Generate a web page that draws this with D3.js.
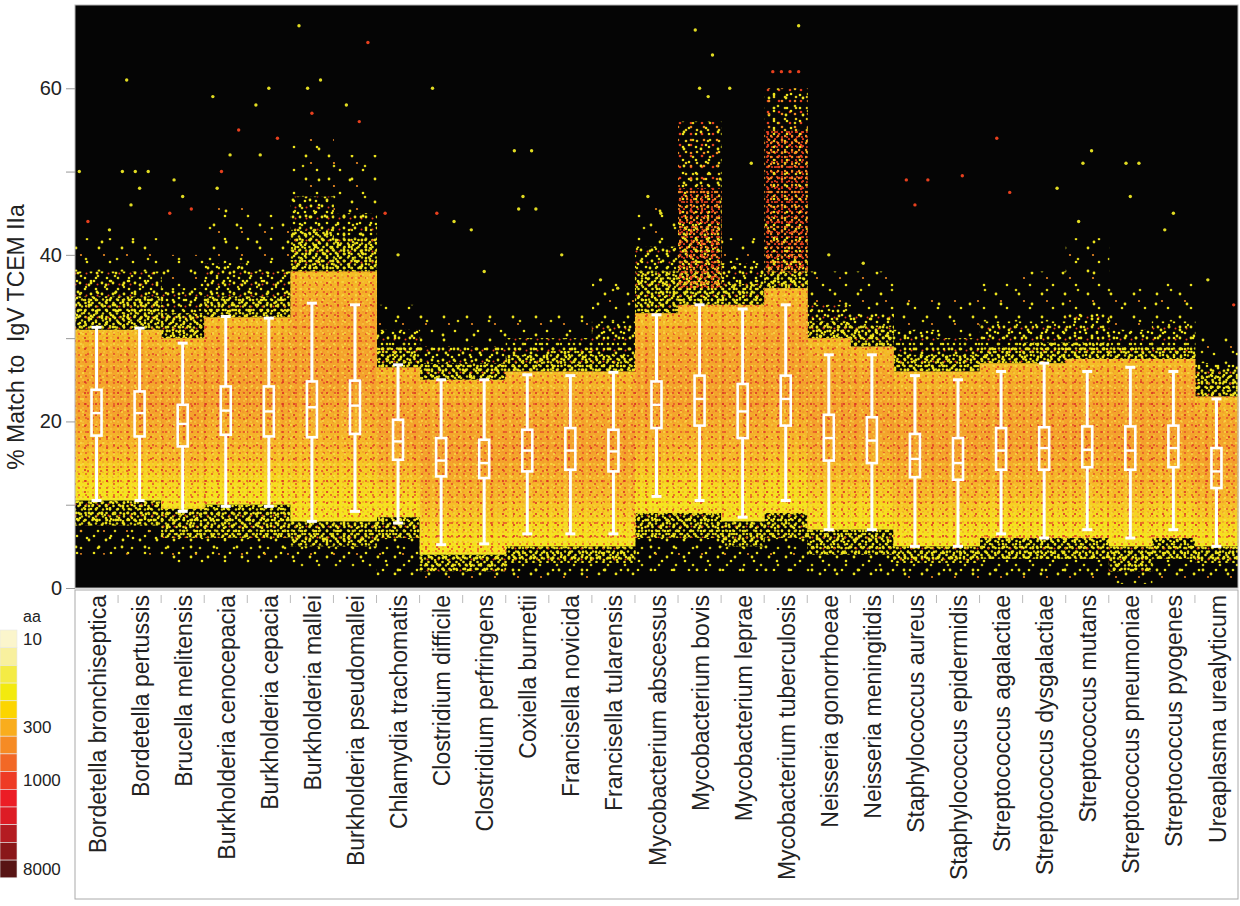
<!DOCTYPE html>
<html>
<head>
<meta charset="utf-8">
<script src="https://cdn.jsdelivr.net/npm/d3@7"></script>
<style>
  body { margin: 0; background: #fff; }
  text { font-family: "Liberation Sans", Arial, sans-serif; fill: #222; }
</style>
</head>
<body>
<div id="chart"></div>
<script>
const species = [
  'Bordetella bronchiseptica', 'Bordetella pertussis', 'Brucella melitensis',
  'Burkholderia cenocepacia', 'Burkholderia cepacia', 'Burkholderia mallei',
  'Burkholderia pseudomallei', 'Chlamydia trachomatis', 'Clostridium difficile',
  'Clostridium perfringens', 'Coxiella burnetii', 'Francisella novicida',
  'Francisella tularensis', 'Mycobacterium abscessus', 'Mycobacterium bovis',
  'Mycobacterium leprae', 'Mycobacterium tuberculosis', 'Neisseria gonorrhoeae',
  'Neisseria meningitidis', 'Staphylococcus aureus', 'Staphylococcus epidermidis',
  'Streptococcus agalactiae', 'Streptococcus dysgalactiae', 'Streptococcus mutans',
  'Streptococcus pneumoniae', 'Streptococcus pyogenes', 'Ureaplasma urealyticum'
];

// box plot stats (% match)
const whiskerLo = [10.5, 10.5, 9.2, 9.8, 9.8, 8.0, 9.2, 7.8, 5.2, 5.3, 6.5, 6.5, 6.5, 11.0, 10.5, 8.5, 10.5, 7.0, 7.0, 5.0, 5.0, 6.5, 6.0, 7.0, 6.0, 7.0, 5.0];
const q1        = [18.3, 18.2, 17.0, 18.4, 18.2, 18.1, 18.5, 15.4, 13.4, 13.2, 14.0, 14.2, 14.0, 19.2, 19.5, 18.0, 19.5, 15.3, 15.0, 13.3, 13.0, 14.2, 14.2, 14.5, 14.2, 14.5, 12.0];
const median    = [21.0, 21.0, 19.7, 21.3, 21.2, 21.7, 21.9, 17.6, 15.3, 15.0, 16.5, 16.5, 16.4, 22.0, 22.7, 21.2, 22.7, 18.0, 17.7, 15.5, 15.0, 16.5, 16.8, 16.6, 16.5, 16.8, 14.0];
const q3        = [23.8, 23.6, 22.0, 24.2, 24.2, 24.8, 24.9, 20.2, 18.0, 17.8, 19.0, 19.2, 19.0, 24.8, 25.5, 24.5, 25.5, 20.8, 20.5, 18.5, 18.0, 19.2, 19.3, 19.4, 19.4, 19.5, 16.8];
const whiskerHi = [31.3, 31.2, 29.4, 32.6, 32.4, 34.2, 34.0, 26.8, 25.0, 25.0, 25.6, 25.5, 25.9, 32.8, 34.0, 33.5, 34.0, 28.0, 28.0, 25.5, 25.0, 26.0, 27.0, 26.0, 26.5, 26.0, 22.7];

// density bands of the peptide cloud (% match)
const coreLo   = [10.5, 10.5, 9.5, 10, 10, 8, 8, 8.5, 4, 4, 5, 5, 5, 9, 9, 8, 9, 7, 7, 5, 5, 6, 6, 6, 5, 6, 5];
const coreHi   = [31, 31, 30, 32.5, 32.5, 38, 38, 26.5, 25, 25, 26, 26, 26, 33, 34, 34, 36, 30, 29, 26, 26, 27, 27, 27.5, 27.5, 27.5, 23];
const upDense  = [35, 35, 33, 35, 35, 43, 42, 29, 27, 27, 28, 28.5, 28, 38, 38, 36.5, 38, 32, 31.5, 28, 28, 29, 29.5, 29.5, 29, 29, 26];
const upMedium = [38, 38, 36, 39, 38, 47, 45, 31, 29, 29, 30, 30, 32, 41, 44, 39, 40, 34, 33, 31, 30, 32, 32, 33, 31, 32, 27];
const upSparse = [42, 42, 40, 46, 45, 54, 52, 34, 33, 33, 33, 33, 37, 46, 50, 42, 44, 38, 38, 35, 35, 37, 38, 42, 36, 37, 30];
const loDense  = [7.5, 7.5, 6, 6, 6, 5, 5, 6, 2, 2, 3, 3, 3, 6, 6, 5, 6, 4, 4, 3, 3, 3.5, 3.5, 3.5, 2, 3.5, 3];
const loSparse = [4, 4, 3, 3, 3, 2.5, 2.5, 1.5, 1, 1, 1, 1, 1.5, 2, 2, 2, 2, 1.5, 1.5, 1, 1, 1, 1, 1, 0.5, 1, 1];

// high-density red zones above the core (Mycobacterium bovis, M. tuberculosis)
const hotLo  = [null, null, null, null, null, null, null, null, null, null, null, null, null, null, 36, null, 38, null, null, null, null, null, null, null, null, null, null];
const hotMid = [null, null, null, null, null, null, null, null, null, null, null, null, null, null, 48, null, 55, null, null, null, null, null, null, null, null, null, null];
const hotHi  = [null, null, null, null, null, null, null, null, null, null, null, null, null, null, 56, null, 60, null, null, null, null, null, null, null, null, null, null];

// isolated peptides: [% match, position across column, red?]
const outliers = [
  [[50, 0.1, 0], [44, 0.3, 1], [43, 0.8, 0]],
  [[61, 0.2, 0], [50, 0.1, 0], [50, 0.4, 0], [50, 0.7, 0], [48, 0.5, 0], [46, 0.3, 0]],
  [[49, 0.3, 0], [47, 0.5, 0], [45, 0.2, 1], [45.5, 0.7, 1]],
  [[59, 0.2, 0], [55, 0.8, 1], [52, 0.6, 0], [50, 0.4, 1], [48, 0.3, 0]],
  [[60, 0.5, 0], [58, 0.2, 0], [54, 0.7, 1], [52, 0.3, 0]],
  [[67.5, 0.2, 0], [61, 0.7, 0], [60, 0.4, 0], [57, 0.5, 1]],
  [[65.5, 0.8, 1], [58, 0.3, 0], [56, 0.6, 1]],
  [[45, 0.2, 1], [40, 0.5, 0]],
  [[60, 0.3, 0], [45, 0.4, 1], [44, 0.8, 0]],
  [[43, 0.2, 0], [38, 0.5, 0]],
  [[52.5, 0.2, 0], [52.5, 0.6, 0], [47, 0.4, 0], [45.5, 0.3, 0], [45.5, 0.7, 0]],
  [[40, 0.3, 0]],
  [[37, 0.2, 0], [36, 0.6, 0]],
  [[47, 0.3, 0], [45, 0.6, 0]],
  [[67, 0.4, 0], [64, 0.8, 0], [60, 0.5, 0], [59, 0.7, 0]],
  [[60, 0.2, 0], [51, 0.7, 0]],
  [[67.5, 0.8, 0], [62, 0.2, 1], [62, 0.4, 1], [62, 0.6, 1], [62, 0.8, 1]],
  [[40, 0.5, 0]],
  [[39, 0.3, 0]],
  [[49, 0.3, 1], [49, 0.8, 1], [46, 0.5, 1]],
  [[49.5, 0.6, 1]],
  [[54, 0.4, 1], [47.5, 0.7, 1]],
  [[48, 0.8, 0]],
  [[52.5, 0.6, 0], [51, 0.4, 0], [44, 0.3, 0]],
  [[51, 0.4, 0], [51, 0.7, 0], [47, 0.5, 0]],
  [[45, 0.5, 0], [43, 0.3, 0]],
  [[37, 0.3, 0], [34, 0.9, 1]]
];

const yTicks = [0, 10, 20, 30, 40, 50, 60];

// density colour key
const keyColors = ['#fbf5cc', '#f8f09e', '#f4eb45', '#f3ea0e', '#fcd500', '#f9ad1d', '#f68b24', '#f26826',
                   '#ee3b25', '#ec1d25', '#dd1c25', '#b41c22', '#8a1719', '#581414'];
const keyLabels = [{i: 0, t: '10'}, {i: 5, t: '300'}, {i: 8, t: '1000'}, {i: 13, t: '8000'}];

const W = 1240, H = 906;
const plotL = 75, plotR = 1238, plotT = 5, plotB = 588;

const svg = d3.select('#chart').append('svg')
    .attr('width', W)
    .attr('height', H);

const x = d3.scaleBand().domain(species).range([plotL, plotR]);
const y = d3.scaleLinear().domain([0, 70]).range([plotB, plotT]);
const bw = x.bandwidth();

// speckle textures: tiles of different sizes are stacked so the dots do not line up
const defs = svg.append('defs');
const makePattern = (id, size, dots) => {
    const p = defs.append('pattern')
        .attr('id', id)
        .attr('patternUnits', 'userSpaceOnUse')
        .attr('width', size)
        .attr('height', size);
    dots.forEach(d => p.append('circle')
        .attr('cx', d[0]).attr('cy', d[1]).attr('r', d[2]).attr('fill', d[3]));
};
const yel = '#ece31c', yel2 = '#d8cf18', red = '#e5401f', org = '#f08a22';
makePattern('s7', 7, [[1.5, 2, 1.3, yel], [5, 5.5, 1.2, yel2]]);
makePattern('s11', 11, [[3, 8, 1.4, yel], [8, 3, 1.3, yel], [9.5, 9.5, 1.0, red]]);
makePattern('s13', 13, [[6, 1, 1.3, yel2], [11, 6, 1.4, yel], [2, 11, 1.3, yel]]);
makePattern('s17', 17, [[4, 13, 1.4, yel], [13, 4, 1.3, yel2], [9, 9, 1.3, yel]]);
makePattern('s19', 19, [[2, 7, 1.4, yel], [15, 15, 1.3, yel], [10, 2, 1.2, yel2]]);
makePattern('s23', 23, [[7, 18, 1.4, yel], [18, 9, 1.3, yel], [12, 2, 1.1, org]]);
makePattern('s31', 31, [[9, 25, 1.4, yel], [24, 11, 1.3, yel2]]);
makePattern('h5', 5, [[2, 2, 1.1, red]]);
makePattern('h7', 7, [[1, 3, 1.3, org], [5, 6, 1.1, red]]);
makePattern('h11', 11, [[4, 9, 1.3, '#e6c81e'], [9, 2, 1.3, red]]);
makePattern('h13', 13, [[7, 4, 1.3, yel], [2, 10, 1.3, org]]);
makePattern('g5', 5, [[3, 2, 0.8, '#ef8a2c']]);
makePattern('g7', 7, [[2, 5, 0.9, '#e4482a'], [6, 2, 0.8, '#f6d84a']]);
makePattern('g11', 11, [[8, 8, 1.0, '#d92a22'], [4, 3, 0.9, '#f8e04a']]);
makePattern('g13', 13, [[5, 9, 1.0, '#f7dc40'], [10, 3, 0.9, '#e23a26']]);

const textures = {
    dense: ['s7', 's11', 's13', 's17', 's19'],
    medium: ['s11', 's17', 's19'],
    sparse: ['s17', 's23'],
    faint: ['s23', 's31'],
    hotDense: ['h5', 'h7', 'h11', 'h13'],
    hotSparse: ['h11', 's17', 'h13'],
    grain: ['g5', 'g7', 'g11', 'g13']
};

const grad = defs.append('linearGradient')
    .attr('id', 'coreGrad')
    .attr('x1', 0).attr('y1', 1).attr('x2', 0).attr('y2', 0);
[[0, '#f4e81c'], [0.12, '#f6dd1e'], [0.3, '#f6bb28'], [0.55, '#f4a22c'], [0.85, '#f4aa2a'], [1, '#f4c025']]
    .forEach(s => grad.append('stop').attr('offset', s[0]).attr('stop-color', s[1]));

// plot background
svg.append('rect')
    .attr('x', plotL).attr('y', plotT)
    .attr('width', plotR - plotL).attr('height', plotB - plotT)
    .attr('fill', '#050505');

const cols = species.map((s, i) => ({s, i}));
const band = (lo, hi, fills) => {
    fills.forEach(f => svg.append('g').selectAll('rect')
        .data(cols.filter(d => lo(d.i) != null))
        .join('rect')
        .attr('x', d => x(d.s))
        .attr('width', bw + 0.5)
        .attr('y', d => y(hi(d.i)))
        .attr('height', d => y(lo(d.i)) - y(hi(d.i)))
        .attr('fill', f.startsWith('url') ? f : `url(#${f})`));
};

band(i => loSparse[i], i => loDense[i], textures.sparse);
band(i => loDense[i], i => coreLo[i], textures.dense);
band(i => upMedium[i], i => upSparse[i], textures.faint);
band(i => upDense[i], i => upMedium[i], textures.medium);
band(i => coreHi[i], i => upDense[i], textures.dense);
band(i => hotMid[i], i => hotHi[i], textures.hotSparse);
band(i => hotLo[i], i => hotMid[i], textures.hotDense);
band(i => coreLo[i], i => coreHi[i], ['url(#coreGrad)'].concat(textures.grain));

// outlying peptides
const pts = [];
outliers.forEach((list, i) => list.forEach(o => pts.push({s: species[i], v: o[0], f: o[1], red: o[2]})));
svg.append('g').selectAll('circle')
    .data(pts)
    .join('circle')
    .attr('cx', d => x(d.s) + d.f * bw)
    .attr('cy', d => y(d.v))
    .attr('r', 1.7)
    .attr('fill', d => d.red ? '#e8401e' : '#e2dc22');

// box plots
const boxes = cols.map(d => ({
    s: d.s, lo: whiskerLo[d.i], q1: q1[d.i], med: median[d.i], q3: q3[d.i], hi: whiskerHi[d.i]
}));
const bx = svg.append('g').attr('class', 'boxes');
const cx = d => x(d.s) + bw / 2;
bx.append('g').selectAll('line')
    .data(boxes).join('line')
    .attr('x1', cx).attr('x2', cx)
    .attr('y1', d => y(d.lo)).attr('y2', d => y(d.q1))
    .attr('stroke', '#fff').attr('stroke-width', 3);
bx.append('g').selectAll('line')
    .data(boxes).join('line')
    .attr('x1', cx).attr('x2', cx)
    .attr('y1', d => y(d.q3)).attr('y2', d => y(d.hi))
    .attr('stroke', '#fff').attr('stroke-width', 3);
['lo', 'hi'].forEach(k => bx.append('g').selectAll('line')
    .data(boxes).join('line')
    .attr('x1', d => cx(d) - 5).attr('x2', d => cx(d) + 5)
    .attr('y1', d => y(d[k])).attr('y2', d => y(d[k]))
    .attr('stroke', '#fff').attr('stroke-width', 3));
bx.append('g').selectAll('rect')
    .data(boxes).join('rect')
    .attr('x', d => cx(d) - 5).attr('width', 10)
    .attr('y', d => y(d.q3)).attr('height', d => y(d.q1) - y(d.q3))
    .attr('fill', 'none')
    .attr('stroke', '#fff').attr('stroke-width', 2.6);
bx.append('g').selectAll('line')
    .data(boxes).join('line')
    .attr('x1', d => cx(d) - 5).attr('x2', d => cx(d) + 5)
    .attr('y1', d => y(d.med)).attr('y2', d => y(d.med))
    .attr('stroke', '#fff').attr('stroke-width', 2.4);

// plot frame
svg.append('rect')
    .attr('x', plotL).attr('y', plotT)
    .attr('width', plotR - plotL).attr('height', plotB - plotT)
    .attr('fill', 'none').attr('stroke', '#b5b5b5');

// y axis
const yAxis = svg.append('g')
    .attr('transform', `translate(${plotL},0)`)
    .call(d3.axisLeft(y).tickValues(yTicks).tickSize(9).tickPadding(4)
        .tickFormat(d => d % 20 === 0 ? d : ''));
yAxis.select('.domain').remove();
yAxis.selectAll('line').attr('stroke', '#999');
yAxis.selectAll('text').style('font-size', '20px').attr('fill', '#222');

svg.append('text')
    .attr('transform', 'translate(24,337) rotate(-90)')
    .attr('text-anchor', 'middle')
    .style('font-size', '23px')
    .style('white-space', 'pre')
    .text('% Match to  IgV TCEM IIa');

// category label box
svg.append('rect')
    .attr('x', plotL).attr('y', 590)
    .attr('width', plotR - plotL).attr('height', 309)
    .attr('fill', '#fff').attr('stroke', '#aaa');
svg.append('g').selectAll('line')
    .data(species.slice(1))
    .join('line')
    .attr('x1', d => x(d)).attr('x2', d => x(d))
    .attr('y1', 595).attr('y2', 603)
    .attr('stroke', '#bbb');
svg.append('g').selectAll('text')
    .data(species)
    .join('text')
    .attr('transform', d => `translate(${x(d) + bw / 2 + 1},595) rotate(-90)`)
    .attr('text-anchor', 'end')
    .attr('dy', '0.35em')
    .style('font-size', '23px')
    .text(d => d);

// colour key
const keyTop = 630, keyH = 17.7;
svg.append('g').selectAll('rect')
    .data(keyColors)
    .join('rect')
    .attr('x', 0).attr('width', 17)
    .attr('y', (d, i) => keyTop + i * keyH)
    .attr('height', keyH)
    .attr('fill', d => d)
    .attr('stroke', '#e8e8e8').attr('stroke-width', 0.6);
svg.append('text')
    .attr('x', 23).attr('y', 622)
    .style('font-size', '16px')
    .text('aa');
svg.append('g').selectAll('text')
    .data(keyLabels)
    .join('text')
    .attr('x', 23)
    .attr('y', d => keyTop + (d.i + 0.5) * keyH)
    .attr('dy', '0.35em')
    .style('font-size', '17px')
    .text(d => d.t);
</script>
</body>
</html>
